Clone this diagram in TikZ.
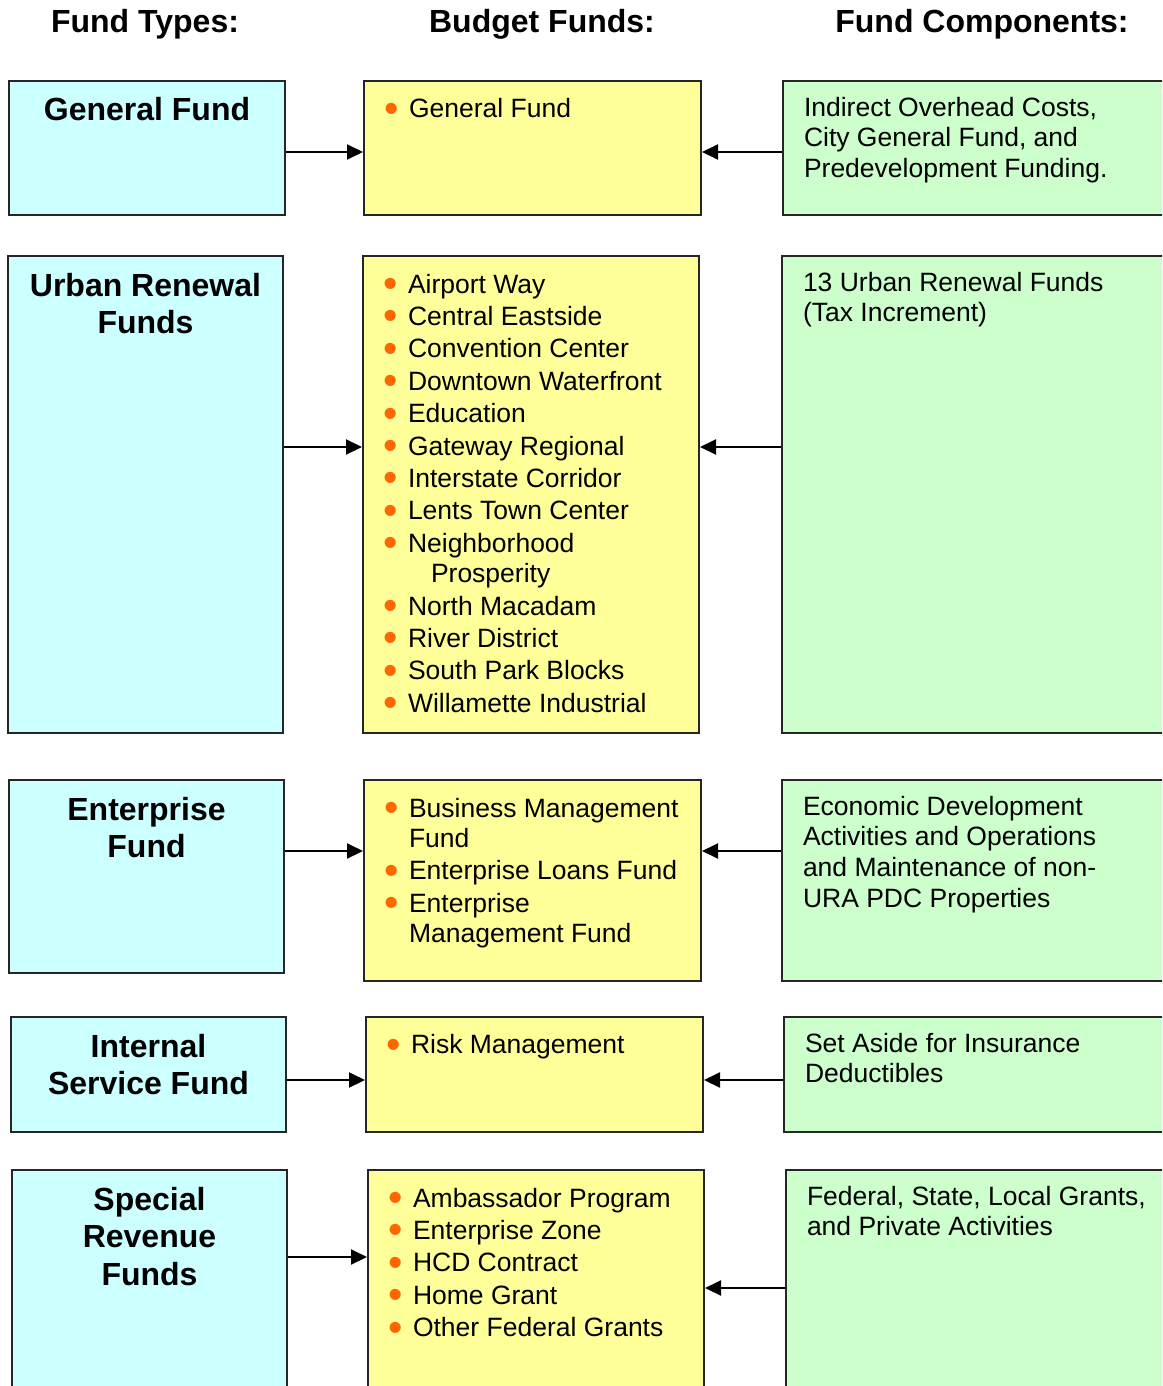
\documentclass[tikz,border=0pt]{standalone}
\usepackage{fontspec}
\setmainfont{Liberation Sans}
\usetikzlibrary{arrows.meta,positioning}
\definecolor{typecol}{HTML}{CCFFFF}
\definecolor{budgcol}{HTML}{FFFF99}
\definecolor{compcol}{HTML}{CCFFCC}
\definecolor{bulcol}{HTML}{FF6600}
\newcommand{\bul}{\makebox[22.5pt][l]{\hspace*{-2.5pt}\smash{\raisebox{-4.5pt}{\scalebox{1.55}{\textcolor{bulcol}{\textbullet}}}}}}
\newcommand{\nobul}{\hspace*{22.5pt}}
\tikzset{%
	fbox/.style     = {draw=black!85, line width=2pt, anchor=north west, inner sep=0pt},
	typebox/.style  = {fbox, fill=typecol}, % Fund type
	budgbox/.style  = {fbox, fill=budgcol}, % Budget fund
	compbox/.style  = {fbox, fill=compcol}, % Component
	dims/.style 2 args = {minimum width=#1pt, minimum height=#2pt},
	head/.style     = {font=\fontsize{32}{37.5}\selectfont\bfseries, anchor=base, inner sep=0pt},
	title/.style    = {font=\fontsize{32}{37.5}\selectfont\bfseries, align=center, anchor=north, inner sep=0pt, execute at begin node=\strut, yshift=-17.25pt},
	items/.style    = {font=\fontsize{26.5}{32.4}\selectfont, align=left, anchor=north west, inner sep=0pt, execute at begin node=\strut, xshift=22.5pt, yshift=-17.8pt},
	comps/.style    = {font=\fontsize{26.5}{30.6}\selectfont, align=left, anchor=north west, inner sep=0pt, execute at begin node=\strut, xshift=21pt, yshift=-16.1pt},
	oneline/.style  = {yshift=3.5pt}, % single line texts sit higher
}
\begin{document}
\begin{tikzpicture}[x=1pt, y=-1pt, >={Triangle[length=16pt,width=15pt]}, line width=2pt]
	\useasboundingbox (0,0) rectangle (1162,1386);
	\clip (0,0) rectangle (1162,1386);
	
	\node[head] (htype) at (145,33) {Fund Types:};
	\node[head] (hbudg) at (542,33) {Budget Funds:};
	\node[head] (hcomp) at (982,33) {Fund Components:};
	
	% general fund
	\node[typebox, dims={276}{134}] (gft) at (8,80) {};
	\node[budgbox, dims={337}{134}] (gfb) at (363,80) {};
	\node[compbox, dims={400}{134}] (gfc) at (782,80) {};
	\node[title, oneline] (gftt) at (gft.north) {General Fund};
	\node[items, oneline] (gfbt) at (gfb.north west) {\bul General Fund};
	\node[comps] (gfct) at (gfc.north west) {Indirect Overhead Costs,\\City General Fund, and\\Predevelopment Funding.};
	
	% urban renewal
	\node[typebox, dims={275}{477}] (urt) at (7,255) {};
	\node[budgbox, dims={336}{477}] (urb) at (362,255) {};
	\node[compbox, dims={400}{477}] (urc) at (781,255) {};
	\node[title] (urtt) at (urt.north) {Urban Renewal\\Funds};
	\node[items] (urbt) at (urb.north west) {\bul Airport Way\\ \bul Central Eastside\\ \bul Convention Center\\ \bul Downtown Waterfront\\ \bul Education\\ \bul Gateway Regional\\ \bul Interstate Corridor\\ \bul Lents Town Center\\ \bul Neighborhood\\[-2pt] \nobul\hspace*{23pt}Prosperity\\ \bul North Macadam\\ \bul River District\\ \bul South Park Blocks\\ \bul Willamette Industrial};
	\node[comps] (urct) at (urc.north west) {13 Urban Renewal Funds\\(Tax Increment)};
	
	% enterprise
	\node[typebox, dims={275}{193}] (ent) at (8,779) {};
	\node[budgbox, dims={337}{201}] (enb) at (363,779) {};
	\node[compbox, dims={400}{201}] (enc) at (781,779) {};
	\node[title] (entt) at (ent.north) {Enterprise\\Fund};
	\node[items] (enbt) at (enb.north west) {\bul Business Management\\[-2pt] \nobul Fund\\ \bul Enterprise Loans Fund\\ \bul Enterprise\\[-2pt] \nobul Management Fund};
	\node[comps] (enct) at (enc.north west) {Economic Development\\Activities and Operations\\and Maintenance of non-\\URA PDC Properties};
	
	% internal service
	\node[typebox, dims={275}{115}] (ist) at (10,1016) {};
	\node[budgbox, dims={337}{115}] (isb) at (365,1016) {};
	\node[compbox, dims={400}{115}] (isc) at (783,1016) {};
	\node[title] (istt) at (ist.north) {Internal\\Service Fund};
	\node[items, oneline] (isbt) at (isb.north west) {\bul Risk Management};
	\node[comps] (isct) at (isc.north west) {Set Aside for Insurance\\Deductibles};
	
	% special revenue
	\node[typebox, dims={275}{300}] (srt) at (11,1169) {};
	\node[budgbox, dims={336}{300}] (srb) at (367,1169) {};
	\node[compbox, dims={400}{300}] (src) at (785,1169) {};
	\node[title] (srtt) at (srt.north) {Special\\Revenue\\Funds};
	\node[items] (srbt) at (srb.north west) {\bul Ambassador Program\\ \bul Enterprise Zone\\ \bul HCD Contract\\ \bul Home Grant\\ \bul Other Federal Grants};
	\node[comps] (srct) at (src.north west) {Federal, State, Local Grants,\\and Private Activities};
	
	% arrows
	\coordinate (r1) at (0,152);
	\coordinate (r2) at (0,447);
	\coordinate (r3) at (0,851);
	\coordinate (r4) at (0,1080);
	\coordinate (r5) at (0,1257);
	\coordinate (r5c) at (0,1288);
	\draw[->] (gft.east |- r1) -- (gfb.west |- r1);
	\draw[->] (gfc.west |- r1) -- (gfb.east |- r1);
	\draw[->] (urt.east |- r2) -- (urb.west |- r2);
	\draw[->] (urc.west |- r2) -- (urb.east |- r2);
	\draw[->] (ent.east |- r3) -- (enb.west |- r3);
	\draw[->] (enc.west |- r3) -- (enb.east |- r3);
	\draw[->] (ist.east |- r4) -- (isb.west |- r4);
	\draw[->] (isc.west |- r4) -- (isb.east |- r4);
	\draw[->] (srt.east |- r5) -- (srb.west |- r5);
	\draw[->] (src.west |- r5c) -- (srb.east |- r5c);
\end{tikzpicture}
\end{document}
